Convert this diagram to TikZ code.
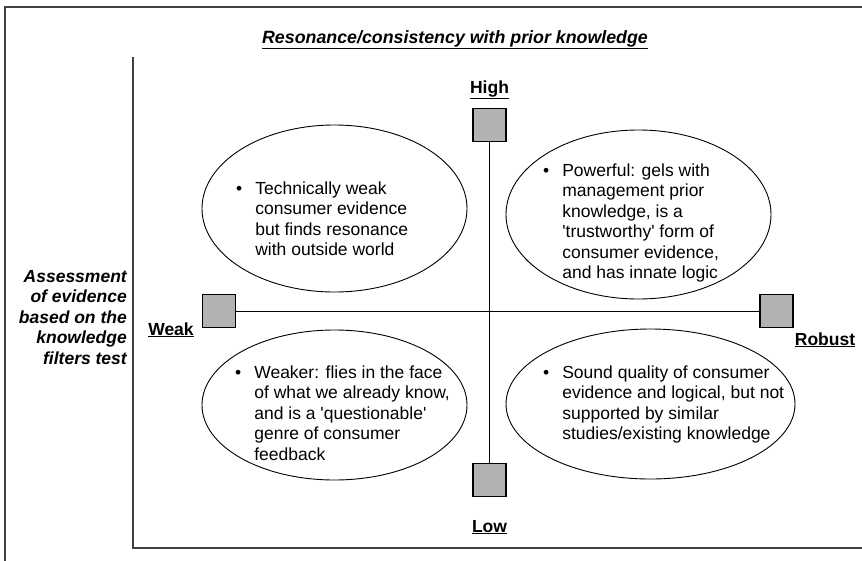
\documentclass[tikz,border=0pt]{standalone}
\usepackage{fontspec}
\setmainfont{Liberation Sans}
\usetikzlibrary{shapes.geometric}
\newcommand{\sq}{\textquotesingle}
\begin{document}
\begin{tikzpicture}[x=1pt,y=-1pt,
  frame/.style={draw=black!75, line width=1.6pt},
  sqbox/.style={draw=black, line width=1.2pt, fill=black!30, minimum width=33pt, minimum height=33pt, inner sep=0pt},
  ell/.style={draw=black, line width=0.9pt, ellipse, inner sep=0pt},
  lbl/.style={font=\fontsize{17.5}{20.5}\selectfont\bfseries, inner sep=0pt, anchor=base},
  body/.style={font=\fontsize{17.5}{20.5}\selectfont, inner sep=0pt, anchor=base west}
]
\useasboundingbox (0,0) rectangle (862,560);
\fill[white] (0,0) rectangle (862,560);
% outer frame
\coordinate (f1) at (5,570);
\coordinate (f2) at (5,7);
\coordinate (f3) at (870,7);
\draw[frame] (f1) -- (f2) -- (f3);
% axes frame
\coordinate (a1) at (133,57);
\coordinate (a2) at (133,548);
\coordinate (a3) at (870,548);
\draw[frame] (a1) -- (a2) -- (a3);
% title
\node[lbl, font=\fontsize{17.8}{20.5}\selectfont\bfseries\itshape] (title) at (455,43) {\underline{Resonance/consistency with prior knowledge}};
% ellipses
\node[ell, minimum width=265pt, minimum height=167pt] (e1) at (334.5,208.5) {};
\node[ell, minimum width=265pt, minimum height=169pt] (e2) at (638.5,214.5) {};
\node[ell, minimum width=265pt, minimum height=150pt] (e3) at (334.5,405) {};
\node[ell, minimum width=289pt, minimum height=150pt] (e4) at (650.5,404) {};
% boxes
\node[sqbox] (top) at (489.5,125) {};
\node[sqbox] (bot) at (489.5,480) {};
\node[sqbox] (left) at (219,311) {};
\node[sqbox] (right) at (776.5,311) {};
\draw[line width=1pt] (top.south) -- (bot.north);
\draw[line width=1pt] (left.east) -- (right.west);
% axis labels
\node[lbl] (high) at (489.5,93) {\underline{High}};
\node[lbl] (low) at (489.5,532) {\underline{Low}};
\node[lbl] (weak) at (171,335) {\underline{Weak}};
\node[lbl] (robust) at (825,345) {\underline{Robust}};
\node[body, anchor=base east, font=\fontsize{17.5}{20.5}\selectfont\bfseries\itshape] (ylab) at (127,282)
  {\begin{tabular}[t]{@{}r@{}}Assessment\\of evidence\\based on the\\knowledge\\filters test\end{tabular}};
% texts
\node[body] (t1) at (236,194) {\begin{tabular}[t]{@{}l@{\hspace{13pt}}l@{}}\textbullet & Technically weak\\ & consumer evidence\\ & but finds resonance\\ & with outside world\end{tabular}};
\node[body] (t2) at (543,176) {\begin{tabular}[t]{@{}l@{\hspace{13pt}}l@{}}\textbullet & Powerful: gels with\\ & management prior\\ & knowledge, is a\\ & \sq trustworthy\sq{} form of\\ & consumer evidence,\\ & and has innate logic\end{tabular}};
\node[body] (t3) at (235,378) {\begin{tabular}[t]{@{}l@{\hspace{13pt}}l@{}}\textbullet & Weaker: flies in the face\\ & of what we already know,\\ & and is a \sq questionable\sq\\ & genre of consumer\\ & feedback\end{tabular}};
\node[body] (t4) at (543,378) {\begin{tabular}[t]{@{}l@{\hspace{13pt}}l@{}}\textbullet & Sound quality of consumer\\ & evidence and logical, but not\\ & supported by similar\\ & studies/existing knowledge\end{tabular}};
\end{tikzpicture}
\end{document}
